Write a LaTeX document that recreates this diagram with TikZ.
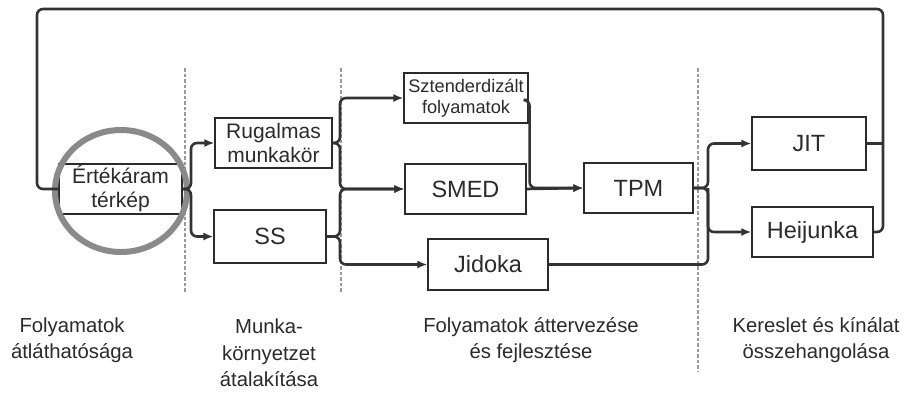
\documentclass[tikz,border=0pt]{standalone}
\usepackage{fontspec}
\setmainfont{Liberation Sans}
\usetikzlibrary{arrows.meta}
\definecolor{ink}{HTML}{2B2B2B}
\definecolor{lineC}{HTML}{333333}
\definecolor{ringC}{HTML}{8A8A8A}
\definecolor{dotC}{HTML}{9A9A9A}
\tikzset{
  box/.style={draw=ink, line width=1.2pt, fill=white, inner sep=0pt, align=center, text=ink},
  bigtxt/.style={font=\fontsize{23.5}{26}\selectfont},
  midtxt/.style={font=\fontsize{21}{24}\selectfont},
  smalltxt/.style={font=\fontsize{18.2}{21}\selectfont},
  conn/.style={draw=lineC, line width=2.6pt, rounded corners=6pt},
  arr/.style={conn, -{Latex[length=10pt,width=8pt]}},
  sep/.style={draw=dotC, line width=2.2pt, dash pattern=on 3.5pt off 2pt},
  ring/.style={draw=ringC, line width=6pt},
  lbl/.style={align=center, text=ink, font=\fontsize{20.3}{26.5}\selectfont}
}
\begin{document}
\begin{tikzpicture}[x=1pt,y=-1pt]
\useasboundingbox[fill=white] (0,0) rectangle (910,392);

% separators
\draw[sep] (185,68) -- (185,293);
\draw[sep] (341,68) -- (341,293);
\draw[sep] (698,68) -- (698,372);

% bus coordinates
\coordinate (b1) at (191,0);
\coordinate (b2) at (340,0);
\coordinate (b3) at (708,0);
\coordinate (b4) at (883,0);
\coordinate (b5) at (37,0);
\coordinate (top) at (0,9);

% boxes
\node[box, midtxt, minimum width=123pt, minimum height=50pt] (V) at (120.5,189) {Értékáram\\térkép};
\node[box, midtxt, minimum width=117pt, minimum height=50pt] (R) at (273.5,143) {Rugalmas\\munkakör};
\node[box, bigtxt, minimum width=112pt, minimum height=53pt] (SS) at (270,236.5) {SS};
\node[box, smalltxt, minimum width=124pt, minimum height=50pt] (Szt) at (466,98) {Sztenderdizált\\folyamatok};
\node[box, bigtxt, minimum width=121pt, minimum height=50pt] (SMED) at (465.5,189) {SMED};
\node[box, bigtxt, minimum width=120pt, minimum height=51pt] (Jid) at (488,264.5) {Jidoka};
\node[box, bigtxt, minimum width=109pt, minimum height=50pt] (TPM) at (638.5,188) {TPM};
\node[box, bigtxt, minimum width=114pt, minimum height=53pt] (JIT) at (809,143.5) {JIT};
\node[box, bigtxt, minimum width=121pt, minimum height=50pt] (Hei) at (812.5,232) {Heijunka};

% ring
\draw[ring] (121,191) ellipse [x radius=66, y radius=61];

% connectors
\draw[arr] (V.east) -- (V.east -| b1) |- (R.west);
\draw[arr] (V.east) -- (V.east -| b1) |- (SS.west);
\draw[arr] (R.east) -- (R.east -| b2) |- (Szt.west);
\draw[arr] (R.east) -- (R.east -| b2) |- (SMED.west);
\draw[arr] (SS.east) -- (SS.east -| b2) |- (SMED.west);
\draw[arr] (SS.east) -- (SS.east -| b2) |- (Jid.west);
\draw[arr] ([yshift=-2pt]Szt.east) -- ++(1,0) |- (TPM.west);
\draw[arr] (SMED.east) -- (TPM.west);
\draw[arr] (TPM.east) -- (TPM.east -| b3) |- (JIT.west);
\draw[arr] (TPM.east) -- (TPM.east -| b3) |- (Hei.west);
\draw[conn] (Jid.east) -- (Jid.east -| b3) -- (b3 |- TPM.east);
\draw[conn] (JIT.east) -- (JIT.east -| b4);
\draw[conn] (Hei.east) -- (Hei.east -| b4) -- (b4 |- top) -- (b5 |- top) -- (b5 |- V.west) -- (V.west);

% labels
\node[lbl] (L1) at (72,340) {Folyamatok\\átláthatósága};
\node[lbl] (L2) at (269,353) {Munka-\\környetzet\\átalakítása};
\node[lbl] (L3) at (531,340) {Folyamatok áttervezése\\és fejlesztése};
\node[lbl] (L4) at (816,340) {Kereslet és kínálat\\összehangolása};
\end{tikzpicture}
\end{document}
